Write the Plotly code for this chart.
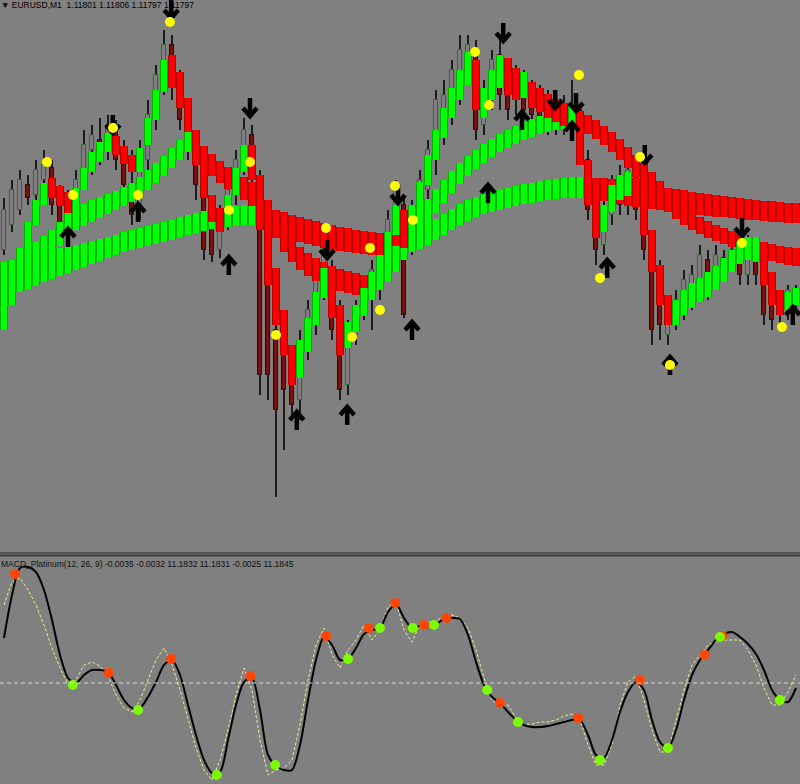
import plotly.graph_objects as go

# ---------------- data (prices in points above BASE, MACD in units of 1e-5) ----------------
BASE = 1.11000
PT = 0.00001
MU = 0.00001

# slow band (top / bottom edge) and colour per bar
SLOW_HI = [638,640,642,644,646,648,650,652,653,655, 657,659,661,663,665,668,670,672,674,676,
           678,680,683,685,687,689,691,692,693,694, 695,695,694,692,690,688,685,683,681,679,
           677,675,673,672,670,669,668,667,666,665, 666,669,672,676,681,686,691,696,700,703,
           706,708,710,712,714,716,717,719,720,721, 722,723,723,723,722,722,721,720,719,718,
           717,715,714,712,711,710,708,707,706,705, 704,703,702,701,700,699,699,698,697,697]
SLOW_LO = [602,605,608,611,614,618,621,624,627,630, 633,636,639,642,645,648,650,652,654,656,
           658,660,663,665,667,669,671,672,673,674, 675,675,673,670,667,664,661,658,656,654,
           652,650,649,648,647,646,645,645,644,644, 645,648,651,655,660,665,670,675,679,683,
           686,688,690,692,694,696,697,699,700,701, 702,702,702,701,700,699,697,696,694,693,
           692,691,690,689,688,687,686,685,684,683, 683,682,681,680,680,679,678,678,677,677]
SLOW_COL = "G" * 32 + "R" * 18 + "G" * 23 + "R" * 27

# medium band
MID_HI = [632,638,645,652,658,664,670,678,688,692, 696,700,703,706,709,713,717,723,730,737,
          744,752,760,768,762,754,746,739,733,728, 723,718,710,700,688,674,662,653,647,642,
          638,634,631,629,627,625,628,634,643,654, 666,678,690,701,711,720,729,737,744,750,
          756,761,766,770,774,778,781,784,786,788, 789,790,789,785,780,774,768,761,753,745,
          737,728,719,710,701,694,688,683,679,675, 672,669,666,663,660,658,656,654,653,652]
MID_LO = [602,610,618,626,634,640,646,654,666,670, 674,678,682,686,690,694,698,703,710,717,
          724,732,740,748,740,732,724,717,711,705, 700,694,685,675,662,648,638,630,624,619,
          615,612,609,607,605,604,606,610,618,628, 640,652,664,676,687,697,707,716,724,731,
          737,743,748,752,756,760,763,766,768,770, 771,772,770,766,761,755,748,740,732,723,
          714,705,696,688,681,675,670,666,662,659, 656,653,650,647,644,641,639,637,635,634]
MID_COL = "G" * 24 + "R" * 22 + "G" * 26 + "R" * 28

# fast band
FAST_HI = [602,625,652,678,700,717,722,714,708,712, 732,748,758,767,764,754,745,752,782,810,
           840,845,828,802,770,735,705,692,705,732, 755,755,725,675,632,590,555,560,582,608,
           632,625,595,578,595,612,628,645,668,695, 690,695,718,745,770,792,812,830,848,840,
           812,830,845,842,832,828,818,812,806,801, 797,796,775,740,700,695,715,725,728,722,
           705,670,635,605,600,610,617,622,628,634, 642,650,658,663,663,650,628,610,608,612]
FAST_LO = [570,595,622,650,675,695,702,694,687,692, 710,728,738,748,745,736,728,728,755,780,
           808,812,792,768,735,702,678,668,682,705, 728,720,670,615,575,545,515,522,548,575,
           602,582,545,552,568,584,600,615,638,665, 652,665,688,715,740,762,782,800,815,790,
           782,800,812,805,800,802,792,788,782,778, 774,770,735,695,662,668,688,700,704,695,
           665,628,595,575,575,585,592,598,603,610, 618,628,636,640,638,615,595,585,590,595]
FAST_COL = ("GGGGGG" "RRR" "GGGGG" "RRR" "GGGG" "RRRRRRR" "GGG" "RRRRRR" "GGGG" "RR"
            "GGGGGGG" "R" "GGGGGGGG" "R" "GGG" "RR" "G" "RRRRR" "G" "RRR" "GGGG" "RRRRR"
            "GGGGGGGGGGG" "RRR" "GG")

# candles
CANDLE_H = [702,720,730,725,740,750,740,715,710,730, 770,775,782,785,780,760,750,760,800,835,
            870,865,830,800,760,730,695,695,720,750, 782,775,730,670,630,580,550,570,600,630,
            655,640,600,580,600,620,640,655,690,720, 705,700,730,760,810,820,840,865,865,860,
            820,850,860,840,835,830,820,815,810,810, 805,820,795,750,710,700,725,735,740,735,
            705,670,640,600,610,630,635,655,650,655, 650,655,660,665,660,640,615,610,615,615]
CANDLE_L = [645,668,685,695,700,710,685,665,665,675, 710,725,735,740,730,700,675,680,730,770,
            805,800,770,740,700,640,638,642,670,695, 725,710,505,500,403,450,480,480,540,565,
            600,560,500,505,555,580,570,600,630,660, 582,645,675,700,725,755,775,795,815,760,
            765,790,790,780,785,780,775,770,765,765, 765,760,740,680,635,645,675,685,685,680,
            640,555,560,555,570,580,590,600,600,610, 630,630,615,615,615,575,570,575,580,590]
CANDLE_O = [650,675,690,715,705,720,732,695,700,680, 720,750,760,750,770,745,715,695,740,780,
            820,855,815,780,750,715,675,650,685,710, 740,765,720,640,570,570,540,500,550,580,
            610,630,570,515,565,585,600,610,640,670, 695,655,685,710,740,765,790,810,825,850,
            775,800,845,825,800,815,805,800,780,795, 775,770,790,740,700,655,685,720,695,725,
            695,655,620,565,580,590,600,615,640,620, 642,638,650,625,650,630,600,600,590,595]
CANDLE_C = [690,710,720,702,730,735,695,675,674,720, 755,765,750,775,740,715,685,740,785,825,
            855,815,780,750,715,650,645,685,710,740, 770,720,525,525,490,510,495,555,590,620,
            645,570,510,565,590,610,630,645,680,710, 585,690,720,750,800,805,830,850,855,770,
            810,840,805,790,825,790,785,780,800,775, 795,795,750,690,650,685,715,695,730,690,
            650,570,575,590,600,620,625,645,610,645, 635,650,625,655,625,585,580,585,610,608]

# signal dots / arrows on the price panel (bar position, price points)
YDOT_IDX = [5.375, 8.625, 13.625, 16.75, 20.75, 28.125, 30.75, 34.0, 40.25, 43.5, 45.75,
            47.0, 48.875, 51.125, 58.875, 60.625, 71.875, 74.5, 79.5, 83.25, 92.25, 97.25]
YDOT_PTS = [738, 705, 772, 705, 878, 690, 738, 565, 672, 563, 652,
            590, 714, 680, 848, 795, 825, 622, 743, 535, 657, 573]
DOWN_IDX = [13.6, 20.9, 30.75, 40.4, 49.25, 62.4, 68.9, 71.5, 80.1, 92.25]
DOWN_PTS = [775, 890, 792, 650, 705, 867, 800, 797, 745, 672]
UP_IDX = [8.0, 16.75, 28.1, 36.6, 42.9, 51.0, 60.5, 64.75, 71.0, 75.4, 83.25, 98.6]
UP_PTS = [663, 688, 635, 480, 485, 570, 707, 780, 769, 632, 535, 585]

# MACD panel
MACD = [45,88,115,116,111,93,63,28,5,0, 8,13,13,11,-2,-17,-25,-25,-14,1,
        18,23,8,-22,-52,-77,-90,-89,-57,-22, 1,5,-27,-72,-83,-87,-87,-62,-17,23,
        46,38,23,24,35,49,53,55,71,79, 65,55,57,58,59,64,65,64,48,21,
        -2,-14,-20,-29,-37,-42,-44,-44,-43,-41, -39,-37,-37,-52,-72,-75,-57,-29,-9,1,
        -7,-37,-59,-65,-47,-17,8,23,33,43, 49,51,46,39,29,13,-7,-17,-19,-5]
SIGNAL = [78,101,105,93,78,58,35,15,-1,3, 18,21,17,7,-12,-25,-29,-17,3,23,
          35,18,-7,-37,-65,-87,-97,-77,-47,-12, 15,-7,-57,-92,-87,-85,-77,-42,3,38,
          55,28,15,33,43,58,43,53,76,81, 53,41,59,61,61,68,68,65,55,33,
          5,-17,-23,-22,-35,-42,-41,-39,-39,-37, -33,-31,-37,-62,-82,-82,-62,-22,1,7,
          -17,-47,-69,-69,-37,-7,18,28,38,41, 43,43,43,33,18,-5,-22,-22,-9,8]
ORANGE_IDX = [1.4, 13.1, 20.9, 30.8, 40.3, 45.6, 48.9, 52.5, 55.3, 62.0, 71.8, 79.5, 87.6, 89.8]
ORANGE_VAL = [109, 10, 24, 7, 47, 55, 80, 58, 65, -20, -35, 3, 28, 47]
GREEN_IDX = [8.6, 16.75, 26.6, 33.9, 43.0, 47.0, 51.1, 53.75, 60.4, 64.25, 74.5, 83.0, 89.5, 97.0]
GREEN_VAL = [-2, -27, -92, -82, 24, 55, 55, 58, -7, -39, -77, -65, 46, -17]

TOP_LABEL = "\u25bc EURUSD,M1  1.11801 1.11806 1.11797 1.11797"
MACD_LABEL = "MACD_Platinum(12, 26, 9) -0.0035 -0.0032 11.1832 11.1831 -0.0025 11.1845"

N = len(SLOW_HI)
for arr in (SLOW_LO, MID_HI, MID_LO, FAST_HI, FAST_LO, CANDLE_H, CANDLE_L, CANDLE_O, CANDLE_C,
            MACD, SIGNAL, SLOW_COL, MID_COL, FAST_COL):
    assert len(arr) == N, len(arr)
IDX = list(range(N))

W, H = 800.0, 784.0
TOP_H = 553.0
X_PER_PX = N / W                       # bar units per pixel
P_PER_PX = (900 - 347) * PT / TOP_H    # price per pixel in the top panel


def price(p):
    return BASE + p * PT


BG = "#808080"
G_BRIGHT, G_DARK = "#00ff00", "#00b000"
R_BRIGHT, R_DARK = "#ff0000", "#b00000"

fig = go.Figure()

# ---- candles (behind the bands)
fig.add_trace(go.Bar(
    x=IDX, base=[price(l) for l in CANDLE_L],
    y=[(h - l) * PT for h, l in zip(CANDLE_H, CANDLE_L)],
    width=0.14, marker=dict(color="#1c1c1c", line=dict(width=0)), opacity=1))
bull = [c >= o for o, c in zip(CANDLE_O, CANDLE_C)]
fig.add_trace(go.Bar(
    x=IDX, base=[price(min(o, c)) for o, c in zip(CANDLE_O, CANDLE_C)],
    y=[max(abs(c - o), 1) * PT for o, c in zip(CANDLE_O, CANDLE_C)],
    width=0.42,
    marker=dict(color=[BG if b else "#7a1212" for b in bull],
                line=dict(color=["#2b6a2b" if b else "#2a0808" for b in bull], width=1)),
    opacity=1))

# ---- bands
for hi, lo, cols in ((SLOW_HI, SLOW_LO, SLOW_COL), (MID_HI, MID_LO, MID_COL),
                     (FAST_HI, FAST_LO, FAST_COL)):
    base = [price(l) for l in lo]
    ln = [(h - l) * PT for h, l in zip(hi, lo)]
    fig.add_trace(go.Bar(x=IDX, base=base, y=ln, width=1.0, opacity=1,
                         marker=dict(color=[G_DARK if c == "G" else R_DARK for c in cols],
                                     line=dict(width=0))))
    fig.add_trace(go.Bar(x=IDX, base=base, y=ln, width=0.78, opacity=1,
                         marker=dict(color=[G_BRIGHT if c == "G" else R_BRIGHT for c in cols],
                                     line=dict(width=0))))

# ---- thick arrow glyphs (glyph outline in pixels, anchored at each data point)
GLYPH_DOWN = [(0, -10), (0, 8), None, (-7, 0), (0, 8), (7, 0)]   # screen px, y downward


def arrow_xy(xs, ps, up):
    gx, gy = [], []
    for x0, p0 in zip(xs, ps):
        for pt in GLYPH_DOWN:
            if pt is None:
                gx.append(None); gy.append(None)
                continue
            dx, dy = pt
            if up:
                dy = -dy
            gx.append(x0 + dx * X_PER_PX)
            gy.append(price(p0) - dy * P_PER_PX)
        gx.append(None); gy.append(None)
    return gx, gy


for xs, ps, up in ((DOWN_IDX, DOWN_PTS, False), (UP_IDX, UP_PTS, True)):
    gx, gy = arrow_xy(xs, ps, up)
    fig.add_trace(go.Scatter(x=gx, y=gy, mode="lines", connectgaps=False,
                             line=dict(color="black", width=4.5)))

# ---- yellow dots
fig.add_trace(go.Scatter(x=YDOT_IDX, y=[price(p) for p in YDOT_PTS], mode="markers",
                         marker=dict(color="#ffff00", size=10, line=dict(width=0))))

# ---- MACD panel
fig.add_trace(go.Scatter(x=IDX, y=[v * MU for v in SIGNAL], mode="lines", xaxis="x2", yaxis="y2",
                         line=dict(color="#f0f090", width=1, dash="3px,2px")))
fig.add_trace(go.Scatter(x=IDX, y=[v * MU for v in MACD], mode="lines", xaxis="x2", yaxis="y2",
                         line=dict(color="black", width=2, shape="spline", smoothing=0.8)))
fig.add_trace(go.Scatter(x=ORANGE_IDX, y=[v * MU for v in ORANGE_VAL], mode="markers",
                         xaxis="x2", yaxis="y2",
                         marker=dict(color="#ff4500", size=10, line=dict(width=0))))
fig.add_trace(go.Scatter(x=GREEN_IDX, y=[v * MU for v in GREEN_VAL], mode="markers",
                         xaxis="x2", yaxis="y2",
                         marker=dict(color="#7cfc00", size=10, line=dict(width=0))))

fig.update_layout(
    width=800, height=784, margin=dict(l=0, r=0, t=0, b=0),
    paper_bgcolor=BG, plot_bgcolor=BG, showlegend=False,
    barmode="overlay", bargap=0, hovermode=False,
    xaxis=dict(domain=[0, 1], range=[-0.5, N - 0.5], visible=False, anchor="y"),
    yaxis=dict(domain=[1 - TOP_H / H, 1], range=[price(347), price(900)], visible=False, anchor="x"),
    xaxis2=dict(domain=[0, 1], range=[-0.5, N - 0.5], visible=False, anchor="y2"),
    yaxis2=dict(domain=[0, 1 - 557 / H], range=[-101 * MU, 126 * MU], visible=False, anchor="x2"),
    shapes=[
        dict(type="line", xref="paper", yref="paper", x0=0, x1=1,
             y0=1 - 553 / H, y1=1 - 553 / H, line=dict(color="#2a2a2a", width=1)),
        dict(type="line", xref="paper", yref="paper", x0=0, x1=1,
             y0=1 - 555.5 / H, y1=1 - 555.5 / H, line=dict(color="#3a3a3a", width=2)),
        dict(type="line", xref="paper", yref="y2", x0=0, x1=1, y0=0, y1=0,
             line=dict(color="#d8d8d8", width=1, dash="4px,3px")),
    ],
    annotations=[
        dict(text=TOP_LABEL, xref="paper", yref="paper", x=0, y=1 - 5.5 / H,
             xanchor="left", yanchor="middle", showarrow=False, borderpad=0,
             font=dict(family="Liberation Sans", size=8.5, color="black")),
        dict(text=MACD_LABEL, xref="paper", yref="paper", x=0, y=1 - 564 / H,
             xanchor="left", yanchor="middle", showarrow=False, borderpad=0,
             font=dict(family="Liberation Sans", size=8.5, color="#111111")),
    ],
)

fig.write_html("out.html", config={"displayModeBar": False},
               post_script="document.body.style.margin='0px';document.body.style.background='#808080';")
